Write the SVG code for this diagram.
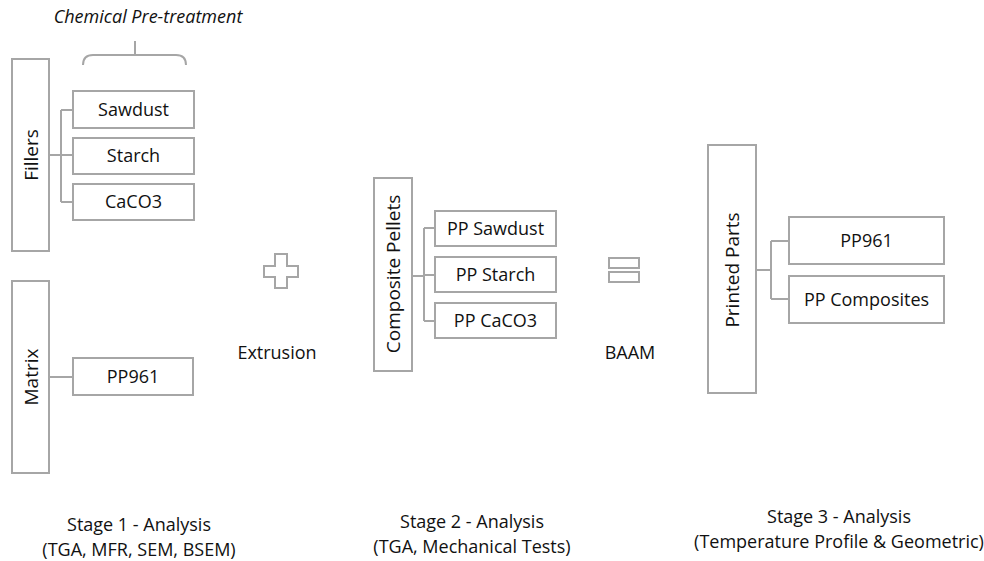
<svg xmlns="http://www.w3.org/2000/svg" width="984" height="561" viewBox="0 0 984 561">
<style>
.box{fill:#fff;stroke:#a6a6a6;stroke-width:2}
.ln{fill:none;stroke:#a6a6a6;stroke-width:2}
.t{font-family:"Open Sans","Liberation Sans",sans-serif;font-size:18px;fill:#111;text-anchor:middle}
.v{font-family:"Open Sans","Liberation Sans",sans-serif;font-size:19px;fill:#111;text-anchor:middle;dominant-baseline:central}
</style>
<rect width="984" height="561" fill="#fff"/>
<g id="connectors">
<path class="ln" d="M49,155 H61 M61,110 V202 M61,110 H73 M61,155 H73 M61,202 H73"/>
<path class="ln" d="M49,377 H73"/>
<path class="ln" d="M412,276 H424 M424,228 V321 M424,228 H435 M424,275 H435 M424,321 H435"/>
<path class="ln" d="M756,270 H771 M771,241 V299 M771,241 H789 M771,299 H789"/>
</g>
<g id="pretreatment">
<text x="148" y="23" class="t" font-style="italic" font-size="17.5">Chemical Pre-treatment</text>
<path class="ln" d="M135,41 V55 M83,65 Q83,55 93,55 H176 Q186,55 186,65"/>
</g>
<g id="fillers"><rect class="box" x="12" y="59" width="37" height="192"/><text class="v" transform="translate(31,155) rotate(-90)">Fillers</text></g>
<g id="sawdust"><rect class="box" x="73" y="91" width="121" height="37"/><text class="t" x="133.5" y="116">Sawdust</text></g>
<g id="starch"><rect class="box" x="73" y="138" width="121" height="36"/><text class="t" x="133.5" y="162">Starch</text></g>
<g id="caco3"><rect class="box" x="73" y="184" width="121" height="36"/><text class="t" x="133.5" y="208">CaCO3</text></g>
<g id="matrix"><rect class="box" x="12" y="281" width="37" height="192"/><text class="v" transform="translate(31,377) rotate(-90)">Matrix</text></g>
<g id="pp961a"><rect class="box" x="73" y="358" width="120" height="37"/><text class="t" x="133" y="383">PP961</text></g>
<g id="plus"><path class="ln" d="M275,254 H287 V266 H298 V277 H287 V288 H275 V277 H264 V266 H275 Z"/></g>
<g id="extrusion"><text class="t" x="277" y="359">Extrusion</text></g>
<g id="pellets"><rect class="box" x="374" y="178" width="38" height="193"/><text class="v" transform="translate(393,274) rotate(-90)">Composite Pellets</text></g>
<g id="ppsawdust"><rect class="box" x="435" y="211" width="121" height="35"/><text class="t" x="495.5" y="235">PP Sawdust</text></g>
<g id="ppstarch"><rect class="box" x="435" y="257" width="121" height="35"/><text class="t" x="495.5" y="281">PP Starch</text></g>
<g id="ppcaco3"><rect class="box" x="435" y="303" width="121" height="35"/><text class="t" x="495.5" y="327">PP CaCO3</text></g>
<g id="equals"><rect class="ln" x="609" y="258" width="30" height="10"/><rect class="ln" x="609" y="272" width="30" height="10"/></g>
<g id="baam"><text class="t" x="630" y="359">BAAM</text></g>
<g id="printed"><rect class="box" x="708" y="145" width="48" height="248"/><text class="v" transform="translate(732,270) rotate(-90)">Printed Parts</text></g>
<g id="pp961b"><rect class="box" x="789" y="217" width="155" height="47"/><text class="t" x="866.5" y="247">PP961</text></g>
<g id="ppcomp"><rect class="box" x="789" y="276" width="155" height="47"/><text class="t" x="866.5" y="306">PP Composites</text></g>
<g id="stage1"><text class="t" x="139" y="531">Stage 1 - Analysis</text><text class="t" x="139" y="556">(TGA, MFR, SEM, BSEM)</text></g>
<g id="stage2"><text class="t" x="472" y="528">Stage 2 - Analysis</text><text class="t" x="472" y="553">(TGA, Mechanical Tests)</text></g>
<g id="stage3"><text class="t" x="839" y="523">Stage 3 - Analysis</text><text class="t" x="839" y="548">(Temperature Profile &amp; Geometric)</text></g>
</svg>
